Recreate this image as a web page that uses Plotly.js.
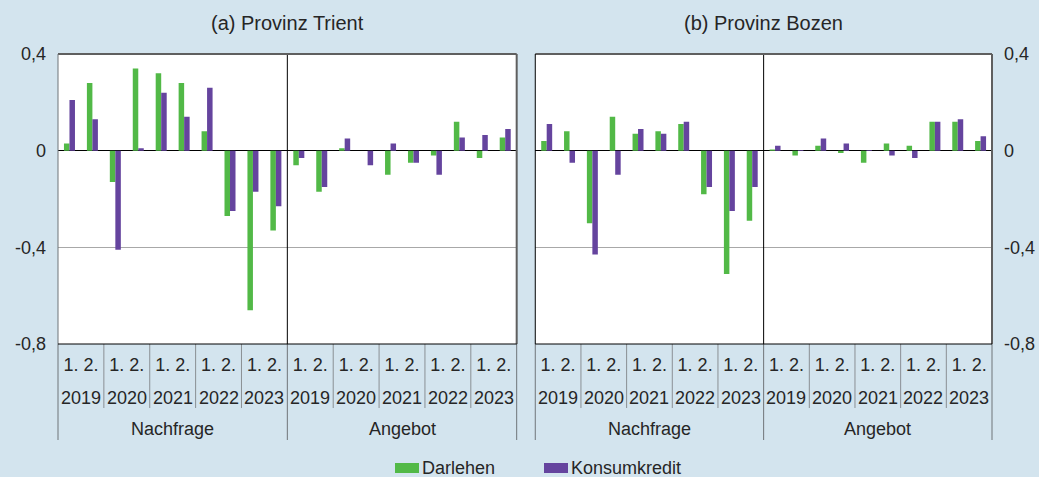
<!DOCTYPE html>
<html>
<head>
<meta charset="utf-8">
<script src="https://cdn.plot.ly/plotly-3.0.1.min.js"></script>
<style>
  html, body { margin: 0; padding: 0; background: #d3e4ee; }
  #chart { width: 1039px; height: 477px; }
</style>
</head>
<body>
<div id="chart"></div>
<script>
// ---- data ----
const halfLabels = ['1.', '2.'];
const years = ['2019', '2020', '2021', '2022', '2023'];
const groups = ['Nachfrage', 'Angebot'];
const panelTitles = ['(a) Provinz Trient', '(b) Provinz Bozen'];
const seriesNames = ['Darlehen', 'Konsumkredit'];
const yTickVals = [0.4, 0, -0.4, -0.8];
const yTickText = ['0,4', '0', '-0,4', '-0,8'];

// order: Nachfrage 2019 1.,2. ... 2023 2., then Angebot 2019 1. ... 2023 2.
const trientDarlehen = [0.03, 0.28, -0.13, 0.34, 0.32, 0.28, 0.08, -0.27, -0.66, -0.33,
                        -0.06, -0.17, 0.01, 0.00, -0.10, -0.05, -0.02, 0.12, -0.03, 0.055];
const trientKonsum   = [0.21, 0.13, -0.41, 0.01, 0.24, 0.14, 0.26, -0.25, -0.17, -0.23,
                        -0.03, -0.15, 0.05, -0.06, 0.03, -0.05, -0.10, 0.055, 0.065, 0.09];
const bozenDarlehen  = [0.04, 0.08, -0.30, 0.14, 0.07, 0.08, 0.11, -0.18, -0.51, -0.29,
                        0.005, -0.02, 0.02, -0.01, -0.05, 0.03, 0.02, 0.12, 0.12, 0.04];
const bozenKonsum    = [0.11, -0.05, -0.43, -0.10, 0.09, 0.07, 0.12, -0.15, -0.25, -0.15,
                        0.02, 0.003, 0.05, 0.03, 0.003, -0.02, -0.03, 0.12, 0.13, 0.06];

// ---- styling ----
const GREEN = '#52b947';
const PURPLE = '#65449e';
const SERIES_COLORS = [GREEN, PURPLE];
const TEXT = '#262626';
const FONT = 'Liberation Sans, Arial, Helvetica, sans-serif';
const W = 1039, H = 477;
const M = { l: 58, r: 47, t: 54, b: 133, pad: 0 };
const PLOT_W = W - M.l - M.r;

// category index positions derived from the category arrays
const xIdx = [];
const yearCenters = [];
const yearTickText = [];
const perYear = halfLabels.length;
const perGroup = years.length * perYear;
groups.forEach(function (g, gi) {
  years.forEach(function (y, yi) {
    const start = gi * perGroup + yi * perYear;
    halfLabels.forEach(function (h, hi) { xIdx.push(start + hi); });
    yearCenters.push(start + (perYear - 1) / 2);
    yearTickText.push(halfLabels.join(' '));
  });
});

function barTrace(name, vals, color, axSuffix) {
  return {
    type: 'bar', name: name, x: xIdx, y: vals,
    xaxis: 'x' + axSuffix, yaxis: 'y' + axSuffix,
    marker: { color: color, line: { width: 0 } },
    showlegend: false, hoverinfo: 'x+y'
  };
}

const data = [
  barTrace(seriesNames[0], trientDarlehen, GREEN, ''),
  barTrace(seriesNames[1], trientKonsum, PURPLE, ''),
  barTrace(seriesNames[0], bozenDarlehen, GREEN, '2'),
  barTrace(seriesNames[1], bozenKonsum, PURPLE, '2')
];

const shapes = [];
const annotations = [];
['', '2'].forEach(function (s, pi) {
  const xr = 'x' + s;
  annotations.push({
    text: panelTitles[pi], xref: xr + ' domain', x: 0.5, yref: 'paper', y: 1,
    yanchor: 'bottom', yshift: 18, showarrow: false,
    font: { family: FONT, size: 20, color: TEXT }
  });
  groups.forEach(function (g, gi) {
    annotations.push({
      text: g, xref: xr, x: gi * perGroup + (perGroup - 1) / 2, yref: 'paper', y: 0,
      yanchor: 'middle', yshift: -85, showarrow: false,
      font: { family: FONT, size: 18, color: TEXT }
    });
    years.forEach(function (y, yi) {
      const start = gi * perGroup + yi * perYear;
      annotations.push({
        text: y, xref: xr, x: start + (perYear - 1) / 2, yref: 'paper', y: 0,
        yanchor: 'middle', yshift: -54, showarrow: false,
        font: { family: FONT, size: 18, color: TEXT }
      });
      if (yi > 0) {
        shapes.push({
          type: 'line', xref: xr, x0: start - 0.5, x1: start - 0.5,
          yref: 'paper', ysizemode: 'pixel', yanchor: 0, y0: 0, y1: -64,
          line: { color: '#8a8f94', width: 1 }, layer: 'above'
        });
      }
    });
    if (gi > 0) {
      shapes.push({
        type: 'line', xref: xr, x0: gi * perGroup - 0.5, x1: gi * perGroup - 0.5,
        yref: 'y' + s + ' domain', y0: 0, y1: 1,
        line: { color: '#000', width: 1 }, layer: 'above'
      });
      shapes.push({
        type: 'line', xref: xr, x0: gi * perGroup - 0.5, x1: gi * perGroup - 0.5,
        yref: 'paper', ysizemode: 'pixel', yanchor: 0, y0: 0, y1: -96,
        line: { color: '#6f7479', width: 1 }, layer: 'above'
      });
    }
  });
  [0, 1].forEach(function (e) {
    shapes.push({
      type: 'line', xref: xr + ' domain', x0: e, x1: e,
      yref: 'paper', ysizemode: 'pixel', yanchor: 0, y0: 0, y1: -96,
      line: { color: '#6f7479', width: 1 }, layer: 'above'
    });
  });
  // frame
  shapes.push({ type: 'line', xref: xr + ' domain', x0: 0, x1: 1, yref: 'y' + s + ' domain', y0: 1, y1: 1,
    line: { color: '#5f5f5f', width: 2 }, layer: 'above' });
  shapes.push({ type: 'line', xref: xr + ' domain', x0: 1, x1: 1, yref: 'y' + s + ' domain', y0: 0, y1: 1,
    line: { color: '#5f5f5f', width: 2 }, layer: 'above' });
  shapes.push({ type: 'line', xref: xr + ' domain', x0: 0, x1: 0, yref: 'y' + s + ' domain', y0: 0, y1: 1,
    line: { color: pi === 0 ? '#6f7479' : '#000', width: 1 }, layer: 'above' });
  shapes.push({ type: 'line', xref: xr + ' domain', x0: 0, x1: 1, yref: 'y' + s + ' domain', y0: 0, y1: 0,
    line: { color: '#000', width: 1 }, layer: 'above' });
});

// custom legend (wide swatches as in the original)
const legendSwatchLeftPx = [395, 544];
seriesNames.forEach(function (name, i) {
  const xPaper = (legendSwatchLeftPx[i] - M.l) / PLOT_W;
  shapes.push({
    type: 'rect', xref: 'paper', xsizemode: 'pixel', xanchor: xPaper, x0: 0, x1: 24,
    yref: 'paper', ysizemode: 'pixel', yanchor: 0, y0: -119, y1: -129,
    fillcolor: SERIES_COLORS[i], line: { width: 0 }, layer: 'above'
  });
  annotations.push({
    text: name, xref: 'paper', x: xPaper, xanchor: 'left', xshift: 25,
    yref: 'paper', y: 0, yanchor: 'middle', yshift: -124, showarrow: false,
    font: { family: FONT, size: 18, color: TEXT }
  });
});

const xAxisBase = {
  range: [-0.5, xIdx.length - 0.5], tickvals: yearCenters, ticktext: yearTickText,
  showgrid: false, zeroline: false, showline: false, ticks: '',
  ticklabelstandoff: 8,
  tickfont: { family: FONT, size: 18, color: TEXT }, fixedrange: true
};
const yAxisBase = {
  range: [-0.8, 0.4], tickvals: yTickVals, ticktext: yTickText,
  showgrid: true, gridcolor: '#a8a8a8', gridwidth: 1,
  zeroline: true, zerolinecolor: '#000', zerolinewidth: 1.5,
  showline: false, ticks: '', ticklabelstandoff: 11,
  tickfont: { family: FONT, size: 18, color: TEXT }, fixedrange: true
};

const layout = {
  width: W, height: H,
  paper_bgcolor: '#d3e4ee', plot_bgcolor: '#ffffff',
  margin: M,
  separators: ',.',
  font: { family: FONT, size: 18, color: TEXT },
  barmode: 'group', bargap: 0.52, bargroupgap: 0,
  xaxis: Object.assign({}, xAxisBase, { domain: [0, 0.4911], anchor: 'y' }),
  xaxis2: Object.assign({}, xAxisBase, { domain: [0.5110, 1], anchor: 'y2' }),
  yaxis: Object.assign({}, yAxisBase, { anchor: 'x', side: 'left' }),
  yaxis2: Object.assign({}, yAxisBase, { anchor: 'x2', side: 'right' }),
  showlegend: false,
  shapes: shapes,
  annotations: annotations
};

Plotly.newPlot('chart', data, layout, { displayModeBar: false, staticPlot: true });
</script>
</body>
</html>
